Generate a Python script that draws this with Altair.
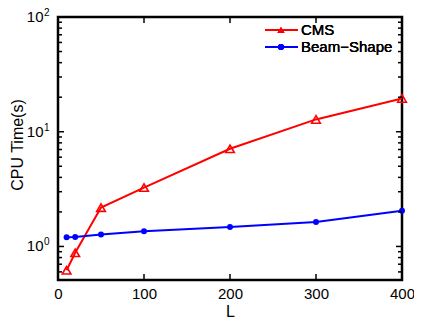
import altair as alt
import pandas as pd

# ---- data ----
L = [10, 20, 50, 100, 200, 300, 400]
cms = [0.62, 0.88, 2.18, 3.26, 7.1, 12.8, 19.5]
beam = [1.20, 1.21, 1.27, 1.36, 1.48, 1.63, 2.05]
series_names = ["CMS", "Beam\u2212Shape"]
series_colors = ["#ff0000", "#0000ff"]

y_major = [1, 10, 100]
y_exponents = ["0", "1", "2"]
y_minor = [0.6, 0.7, 0.8, 0.9, 2, 3, 4, 5, 6, 7, 8, 9, 20, 30, 40, 50, 60, 70, 80, 90]
x_major = [0, 100, 200, 300, 400]

W, H = 344, 263
FONT = "Liberation Sans"

df_cms = pd.DataFrame({"L": L, "t": cms})
df_beam = pd.DataFrame({"L": L, "t": beam})
df_ymaj = pd.DataFrame({"v": y_major, "e": y_exponents})
df_ymin = pd.DataFrame({"v": y_minor})
df_xmaj = pd.DataFrame({"v": x_major})

xs = alt.Scale(domain=[0, 400], nice=False)
ys = alt.Scale(type="log", domain=[0.51, 100], nice=False)

xenc = alt.X("L:Q", scale=xs,
             axis=alt.Axis(title="L", values=x_major, ticks=False, tickSize=0, domain=False,
                           grid=False, labelFontSize=15, labelFont=FONT, labelColor="black",
                           labelBaseline="middle", labelPadding=13, labelFlush=False,
                           titleFontSize=16, titleFont=FONT, titleFontWeight="normal",
                           titleColor="black", titleY=31, titleBaseline="middle"))
yenc = alt.Y("t:Q", scale=ys,
             axis=alt.Axis(title="CPU Time(s)", labels=False, ticks=False, tickSize=0,
                           domain=False, grid=False, titleFontSize=16, titleFont=FONT,
                           titleFontWeight="normal", titleColor="black",
                           titleX=-41, titleY=H / 2 - 4, titleBaseline="middle", titleAngle=270))

line_cms = alt.Chart(df_cms).mark_line(color=series_colors[0], strokeWidth=2).encode(x=xenc, y=yenc)
pts_cms = alt.Chart(df_cms).mark_point(shape="triangle-up", filled=False, color=series_colors[0],
                                       size=75, strokeWidth=1.6, opacity=1).encode(
    x=alt.X("L:Q", scale=xs), y=alt.Y("t:Q", scale=ys))
line_beam = alt.Chart(df_beam).mark_line(color=series_colors[1], strokeWidth=2).encode(
    x=alt.X("L:Q", scale=xs), y=alt.Y("t:Q", scale=ys))
pts_beam = alt.Chart(df_beam).mark_circle(color=series_colors[1], size=36, opacity=1).encode(
    x=alt.X("L:Q", scale=xs), y=alt.Y("t:Q", scale=ys))

# inward ticks
def yticks(df, length):
    left = alt.Chart(df).mark_rule(color="black", strokeWidth=1.5).encode(
        y=alt.Y("v:Q", scale=ys), x=alt.value(0), x2=alt.value(length))
    right = alt.Chart(df).mark_rule(color="black", strokeWidth=1.5).encode(
        y=alt.Y("v:Q", scale=ys), x=alt.value(W), x2=alt.value(W - length))
    return [left, right]

xt_bottom = alt.Chart(df_xmaj).mark_rule(color="black", strokeWidth=1.5).encode(
    x=alt.X("v:Q", scale=xs), y=alt.value(H), y2=alt.value(H - 6))
xt_top = alt.Chart(df_xmaj).mark_rule(color="black", strokeWidth=1.5).encode(
    x=alt.X("v:Q", scale=xs), y=alt.value(0), y2=alt.value(6))

# y labels 10^n
ylab_base = alt.Chart(df_ymaj).mark_text(align="right", baseline="middle", fontSize=15,
                                         font=FONT, color="black").encode(
    y=alt.Y("v:Q", scale=ys), x=alt.value(-14.5), text=alt.value("10"))
ylab_exp = alt.Chart(df_ymaj).mark_text(align="left", baseline="middle", fontSize=10,
                                        font=FONT, color="black", dy=-4).encode(
    y=alt.Y("v:Q", scale=ys), x=alt.value(-14), text="e:N")

# legend
leg = []
leg_y = [13, 30]
lx0 = W - 137
for i, name in enumerate(series_names):
    c = series_colors[i]
    leg.append(alt.Chart(df_ymaj).mark_rule(color=c, strokeWidth=2).encode(
        x=alt.value(lx0), x2=alt.value(lx0 + 33), y=alt.value(leg_y[i])))
    if i == 0:
        leg.append(alt.Chart(df_ymaj).mark_point(shape="triangle-up", filled=True, color=c,
                                                 size=50, opacity=1).encode(
            x=alt.value(lx0 + 16), y=alt.value(leg_y[i])))
    else:
        leg.append(alt.Chart(df_ymaj).mark_circle(color=c, size=36, opacity=1).encode(
            x=alt.value(lx0 + 16), y=alt.value(leg_y[i])))
    leg.append(alt.Chart(df_ymaj).mark_text(align="left", baseline="middle", fontSize=15,
                                            font=FONT, color="black").encode(
        x=alt.value(lx0 + 36), y=alt.value(leg_y[i]), text=alt.value(name)))

layers = [line_cms, line_beam, pts_beam, pts_cms] + yticks(df_ymaj, 6) + yticks(df_ymin, 4) + \
         [xt_bottom, xt_top, ylab_base, ylab_exp] + leg

chart = alt.layer(*layers).properties(
    width=W, height=H,
    autosize=alt.AutoSizeParams(type="none"),
    padding={"left": 50, "top": 9, "right": 12, "bottom": 39},
    background="white",
).configure_view(stroke="black", strokeWidth=2.5)

chart.save("out.html", embed_options={"renderer": "svg", "actions": False})
